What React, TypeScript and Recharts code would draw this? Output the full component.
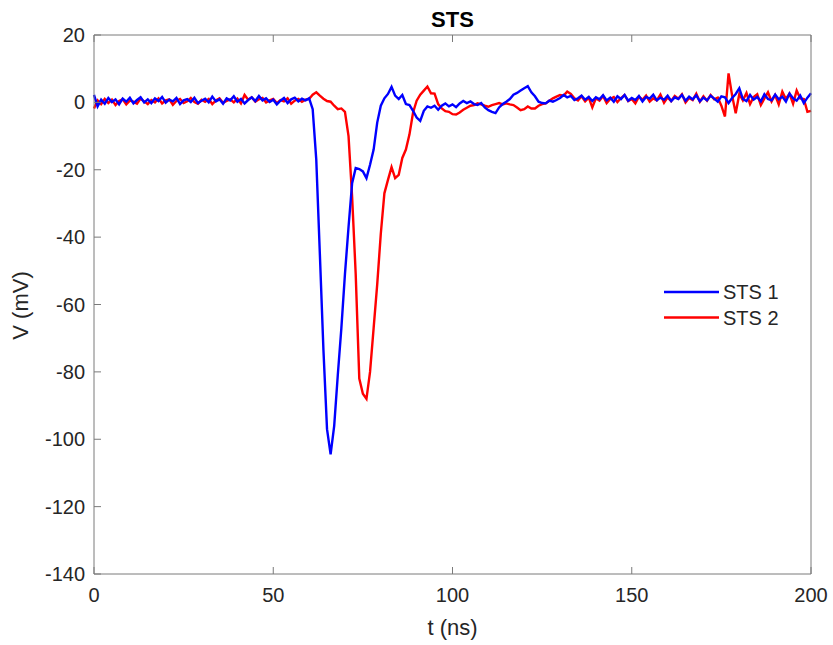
import { LineChart, Line, XAxis, YAxis, Legend, Label } from 'recharts';

// sampled every 1 ns, starting at t = 0
const SAMPLE_STEP_NS = 1;

const STS1_MV = [
  2.2, -1.2, 0.8, -0.4, 1.3, 0.1, 0.9, -0.6, 1.1, 0.2,
  1.4, -0.3, 0.7, 1.5, 0.0, 0.9, -0.2, 1.2, 0.4, 1.6,
  -0.1, 0.8, 0.3, 1.3, -0.5, 0.6, 1.0, 0.1, 1.4, -0.2,
  0.5, 1.1, 0.0, 1.7, 0.3, 0.9, -0.4, 1.2, 0.6, 1.8,
  0.2, 1.0, -0.3, 0.7, 1.5, 0.4, 1.9, 0.6, 1.2, 0.1,
  0.8, -0.6, 0.5, 1.3, -0.2, 0.9, 1.4, 0.3, 1.1, 0.6,
  1.2, -2, -17, -45, -73.5, -97, -104.5, -96, -81, -67,
  -51, -37, -24, -19.5, -19.8, -20.5, -22.5, -18.5, -14, -6,
  -1, 1.2, 2.5, 4.6, 2.0, 1.0, 2.2, -0.5, -0.8, -2.5,
  -4.5, -5.5, -2.5, -1.2, -1.6, -1.0, -2.2, -1.0, -0.3, -1.2,
  -0.6, -1.4, -0.3, 0.4, -0.2, 0.3, -0.5, -0.8, -0.2, -1.5,
  -2.3, -2.8, -3.2, -1.5, -0.5, 0.2, 1.0, 2.3, 2.8, 3.5,
  4.2, 4.8, 3.0, 1.8, 0.2, -0.2, -0.3, 0.5, 0.2, 0.7,
  1.3, 2.2, 1.5, 1.9, 0.7, 1.2, 2.0, 0.8, 1.6, 0.4,
  1.5, 0.9, 2.1, 0.6, 1.4, 0.2, 1.8, 1.0, 2.2, 0.5,
  1.3, 0.7, 1.9, 0.3, 1.6, 1.1, 2.3, 0.6, 1.4, 0.8,
  2.0, 0.4, 1.5, 1.0, 2.2, 0.5, 1.7, 0.9, 2.1, 0.3,
  1.4, 0.6, 2.0, 1.1, 0.2, 1.8, 1.5, -0.2, 1.3, 2.5,
  4.2, 1.0, 0.4, 2.2, 0.8, 1.6, 0.3, 2.4, 1.0, 0.6,
  2.3, 0.9, 1.7, 0.2, 2.6, 1.2, 0.5, 2.0, -0.2, 1.4,
  2.7,
];

const STS2_MV = [
  -1.8, 0.6, -0.5, 1.0, -0.2, 0.8, -0.8, 0.4, 0.9, -0.6,
  0.5, 0.2, -0.4, 1.1, 0.3, -0.5, 0.7, 0.0, 1.2, -0.3,
  0.6, 0.9, -0.7, 0.4, 1.0, -0.2, 0.3, 1.3, 0.1, -0.4,
  0.8, 0.2, 1.0, -0.5, 0.6, 1.2, -0.1, 0.4, 0.9, 0.0,
  1.1, -0.3, 2.2, 0.8, 1.5, 0.2, 0.9, 1.3, 0.0, 0.6,
  1.0, -0.2, 0.7, 0.3, 1.2, -0.4, 0.5, 1.0, 0.2, 0.8,
  1.0, 2.3, 3.0, 2.0, 1.1, 0.4, 0.2, -1.0, -2.0, -1.8,
  -2.8, -10, -28, -51, -82, -86.5, -88, -80, -67, -54,
  -39, -27, -23, -19.2, -22.5, -21.5, -16.5, -14, -9.5, -3,
  0.5, 2.3, 3.5, 4.7, 2.7, 2.6, -0.5, -1.8, -2.6, -2.8,
  -3.5, -3.6, -3.0, -2.2, -1.6, -1.0, -0.8, -0.3, -0.6, -1.0,
  -1.3, -0.8, -0.5, -0.2, -0.6, -0.3, -0.6, -0.8, -1.5, -2.3,
  -2.0, -1.2, -1.8, -1.8, -1.0, -0.5, -0.3, 0.5, 1.2, 1.7,
  2.2, 2.0, 3.2, 2.5, 1.2, 0.6, 1.8, 0.3, 1.4, -1.5,
  1.2, 0.5, 1.9, -0.2, 1.0, 1.6, 0.1, 1.3, 2.2, 0.4,
  1.0, -0.3, 1.7, 0.8, 2.0, 0.2, 1.2, 0.6, 2.3, -0.1,
  1.5, 0.4, 1.9, 1.1, 2.4, 0.0, 1.3, 0.7, 2.6, 0.2,
  1.8, 0.5, 2.2, 0.9, 1.4, -1.0, -4.2, 8.6, 2.0, -3.2,
  2.5, 0.6, 2.8, -0.5, 1.6, 2.4, -0.8, 1.2, 3.0, 0.3,
  2.2, -0.6, 3.2, 1.0, 2.6, -0.4, 3.5, 1.2, 1.0, -2.8,
  -2.5,
];

const X_TICKS = [0, 50, 100, 150, 200];
const Y_TICKS = [-140, -120, -100, -80, -60, -40, -20, 0, 20];

const rows = STS1_MV.map((v, i) => ({ t: i * SAMPLE_STEP_NS, sts1: v, sts2: STS2_MV[i] }));

const FONT = '"Liberation Sans", Arial, Helvetica, sans-serif';
const TEXT = '#262626';
const BOX = '#7a7a7a';
const TICK_LEN = 7;

// MATLAB style: ticks point inward, labels only on bottom/left
function BottomTick({ x, y, payload }: any) {
  return (
    <g>
      <line x1={x} y1={y} x2={x} y2={y - TICK_LEN} stroke={BOX} />
      <text x={x} y={y + 14} dy="0.71em" textAnchor="middle" fill={TEXT} fontSize={20} fontFamily={FONT}>
        {payload.value}
      </text>
    </g>
  );
}

function TopTick({ x, y }: any) {
  return <line x1={x} y1={y} x2={x} y2={y + TICK_LEN} stroke={BOX} />;
}

function LeftTick({ x, y, payload }: any) {
  return (
    <g>
      <line x1={x} y1={y} x2={x + TICK_LEN} y2={y} stroke={BOX} />
      <text x={x - 9} y={y} dy="0.355em" textAnchor="end" fill={TEXT} fontSize={20} fontFamily={FONT}>
        {payload.value}
      </text>
    </g>
  );
}

function RightTick({ x, y }: any) {
  return <line x1={x} y1={y} x2={x - TICK_LEN} y2={y} stroke={BOX} />;
}

function LegendBox({ payload }: any) {
  const items = [...(payload || [])].sort((a, b) => String(a.value).localeCompare(String(b.value)));
  return (
    <svg width={140} height={56} style={{ display: 'block' }}>
      {items.map((p: any, i: number) => {
        const y = 14 + i * 25.5;
        return (
          <g key={p.value}>
            <line x1={4} x2={59} y1={y} y2={y} stroke={p.color} strokeWidth={2.4} />
            <text x={63} y={y} dy="0.355em" fontSize={20} fill={TEXT} fontFamily={FONT}>{p.value}</text>
          </g>
        );
      })}
    </svg>
  );
}

export default function App() {
  return (
    <div style={{ position: 'absolute', left: 0, top: 0, width: 833, height: 645, background: '#fff' }}>
      <LineChart width={833} height={645} data={rows} margin={{ top: 34, right: 21, bottom: 0, left: 0 }}>
        <XAxis
          xAxisId="b" dataKey="t" type="number" domain={[0, 200]} ticks={X_TICKS} interval={0}
          height={71} tickSize={0} tickMargin={0} tickLine={false} axisLine={{ stroke: BOX }}
          tick={<BottomTick />}
        >
          <Label
            content={(p: any) => {
              const vb = p.viewBox;
              return (
                <text x={vb.x + vb.width / 2} y={vb.y + 61} textAnchor="middle" fontSize={22} fill={TEXT} fontFamily={FONT}>
                  t (ns)
                </text>
              );
            }}
          />
        </XAxis>
        <XAxis
          xAxisId="t" orientation="top" dataKey="t" type="number" domain={[0, 200]} ticks={X_TICKS} interval={0}
          height={1} tickSize={0} tickMargin={0} tickLine={false} axisLine={{ stroke: BOX }}
          tick={<TopTick />}
        >
          <Label
            content={(p: any) => {
              const vb = p.viewBox;
              return (
                <text x={vb.x + vb.width / 2} y={vb.y + vb.height - 8.5} textAnchor="middle" fontSize={22} fontWeight="bold" fill="#000" fontFamily={FONT}>
                  STS
                </text>
              );
            }}
          />
        </XAxis>
        <YAxis
          yAxisId="l" type="number" domain={[-140, 20]} ticks={Y_TICKS} interval={0}
          width={94} tickSize={0} tickMargin={0} tickLine={false} axisLine={{ stroke: BOX }}
          tick={<LeftTick />}
        >
          <Label
            content={(p: any) => {
              const vb = p.viewBox;
              const cy = vb.y + vb.height / 2 + 1;
              return (
                <text x={28} y={cy} textAnchor="middle" fontSize={22} fill={TEXT} fontFamily={FONT} transform={`rotate(-90, 28, ${cy})`}>
                  V (mV)
                </text>
              );
            }}
          />
        </YAxis>
        <YAxis
          yAxisId="r" orientation="right" type="number" domain={[-140, 20]} ticks={Y_TICKS} interval={0}
          width={1} tickSize={0} tickMargin={0} tickLine={false} axisLine={{ stroke: BOX }}
          tick={<RightTick />}
        />
        <Line
          xAxisId="b" yAxisId="l" type="linear" dataKey="sts2" name="STS 2" stroke="#ff0000"
          strokeWidth={2.4} dot={false} activeDot={false} isAnimationActive={false}
        />
        <Line
          xAxisId="b" yAxisId="l" type="linear" dataKey="sts1" name="STS 1" stroke="#0000ff"
          strokeWidth={2.4} dot={false} activeDot={false} isAnimationActive={false}
        />
        <Legend
          layout="vertical" verticalAlign="middle" align="center"
          wrapperStyle={{ left: 660, top: 278, width: 140 }}
          content={<LegendBox />}
        />
      </LineChart>
    </div>
  );
}
